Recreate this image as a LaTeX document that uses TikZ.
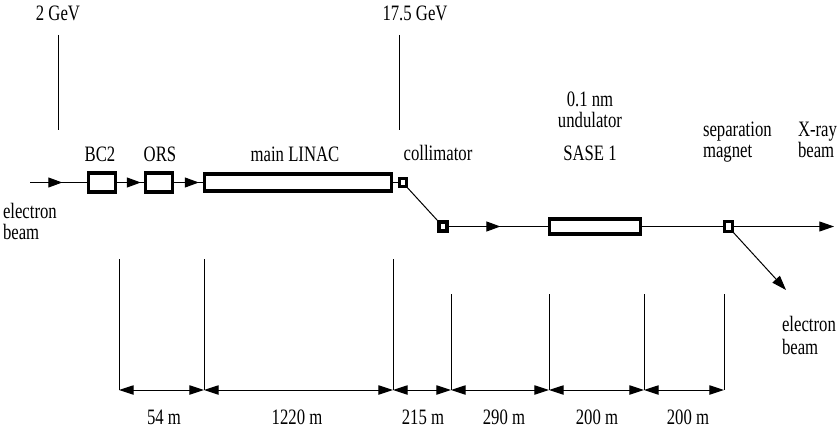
\documentclass[tikz,border=0pt]{standalone}
\usepackage{fontspec}
\setmainfont{Liberation Serif}
\newfontfamily\lblfont{Liberation Serif}[FakeStretch=0.76]
\usetikzlibrary{arrows.meta,decorations.markings}
\begin{document}
\begin{tikzpicture}[x=0.75pt,y=-0.75pt,
  lbl/.style={font=\lblfont\fontsize{16.5}{18}\selectfont, inner sep=0pt, outer sep=0pt},
  thinln/.style={line width=0.75pt},
  elem/.style={draw, line width=2.6pt, inner sep=0pt, outer sep=0pt, rectangle},
  midarrow/.style={postaction={decorate}, decoration={markings, mark=at position #1 with {\arrow{Triangle[length=10.5pt,width=7.5pt]}}}},
  dimarrow/.style={thinln, {Triangle[length=11pt,width=7pt]}-{Triangle[length=11pt,width=7pt]}},
  endarrow/.style={thinln, -{Triangle[length=11pt,width=7.5pt]}}
]
\useasboundingbox (0,0) rectangle (838,435);

% elements on the beam line
\node[elem, minimum width=20pt, minimum height=14pt] (bc2) at (102,182.5) {};
\node[elem, minimum width=20pt, minimum height=14pt] (ors) at (159,182.5) {};
\node[elem, minimum width=140pt, minimum height=12.5pt] (linac) at (298,182.5) {};
\node[elem, minimum width=5pt, minimum height=6pt] (col1) at (403,182.5) {};
\node[elem, minimum width=6pt, minimum height=6.5pt] (col2) at (443,226.5) {};
\node[elem, minimum width=68pt, minimum height=11pt] (und) at (595,226.5) {};
\node[elem, minimum width=6pt, minimum height=7.5pt] (sep) at (728.5,226.5) {};

\coordinate (bin) at (30,182.5);
\coordinate (xout) at (834,226.5);
\coordinate (eout) at (786,290);

% beam connectors
\draw[thinln, midarrow=0.55] (bin) -- (bc2.west);
\draw[thinln, midarrow=0.84] (bc2.east) -- (ors.west);
\draw[thinln, midarrow=0.82] (ors.east) -- (linac.west);
\draw[thinln] (linac.east) -- (col1.west);
\draw[thinln] (col1.south east) -- (col2.north west);
\draw[thinln, midarrow=0.52] (col2.east) -- (und.west);
\draw[thinln] (und.east) -- (sep.west);
\draw[endarrow] (sep.east) -- (xout);
\draw[endarrow] (sep.south east) -- (eout);

% energy markers
\coordinate (g2t) at (58,35);   \coordinate (g2b) at (58,130);
\coordinate (g17t) at (399,35); \coordinate (g17b) at (399,130);
\draw[thinln] (g2t) -- (g2b);
\draw[thinln] (g17t) -- (g17b);
\node[lbl, anchor=base] (e2) at (58,21) {2 GeV};
\node[lbl, anchor=base] (e17) at (415,21) {17.5 GeV};

% labels
\node[lbl, anchor=base] (tbc2) at (100,161) {BC2};
\node[lbl, anchor=base] (tors) at (160,161) {ORS};
\node[lbl, anchor=base] (tlin) at (295,161) {main LINAC};
\node[lbl, anchor=base] (tcol) at (438,160) {collimator};
\node[lbl, anchor=base] (tu1) at (590,106) {0.1 nm};
\node[lbl, anchor=base] (tu2) at (590,127) {undulator};
\node[lbl, anchor=base] (tu3) at (590,160) {SASE 1};
\node[lbl, anchor=base west] (ts1) at (703,136) {separation};
\node[lbl, anchor=base west] (ts2) at (703,157) {magnet};
\node[lbl, anchor=base west] (tx1) at (798,136) {X-ray};
\node[lbl, anchor=base west] (tx2) at (798,157) {beam};
\node[lbl, anchor=base west] (tei1) at (3,218) {electron};
\node[lbl, anchor=base west] (tei2) at (3,239) {beam};
\node[lbl, anchor=base west] (teo1) at (782,331) {electron};
\node[lbl, anchor=base west] (teo2) at (782,354) {beam};

% dimension lines
\coordinate (d0t) at (119,259); \coordinate (d0b) at (119,390);
\coordinate (d1t) at (204,259); \coordinate (d1b) at (204,390);
\coordinate (d2t) at (393,259); \coordinate (d2b) at (393,390);
\coordinate (d3t) at (451,294); \coordinate (d3b) at (451,390);
\coordinate (d4t) at (549,294); \coordinate (d4b) at (549,390);
\coordinate (d5t) at (644,294); \coordinate (d5b) at (644,390);
\coordinate (d6t) at (724,294); \coordinate (d6b) at (724,390);
\foreach \i in {0,...,6} { \draw[thinln] (d\i t) -- (d\i b); }
\draw[dimarrow] (d0b) -- (d1b);
\draw[dimarrow] (d1b) -- (d2b);
\draw[dimarrow] (d2b) -- (d3b);
\draw[dimarrow] (d3b) -- (d4b);
\draw[dimarrow] (d4b) -- (d5b);
\draw[dimarrow] (d5b) -- (d6b);

\node[lbl, anchor=base] (l1) at (164,424) {54 m};
\node[lbl, anchor=base] (l2) at (297,424) {1220 m};
\node[lbl, anchor=base] (l3) at (423,424) {215 m};
\node[lbl, anchor=base] (l4) at (504,424) {290 m};
\node[lbl, anchor=base] (l5) at (597,424) {200 m};
\node[lbl, anchor=base] (l6) at (688,424) {200 m};
\end{tikzpicture}
\end{document}
